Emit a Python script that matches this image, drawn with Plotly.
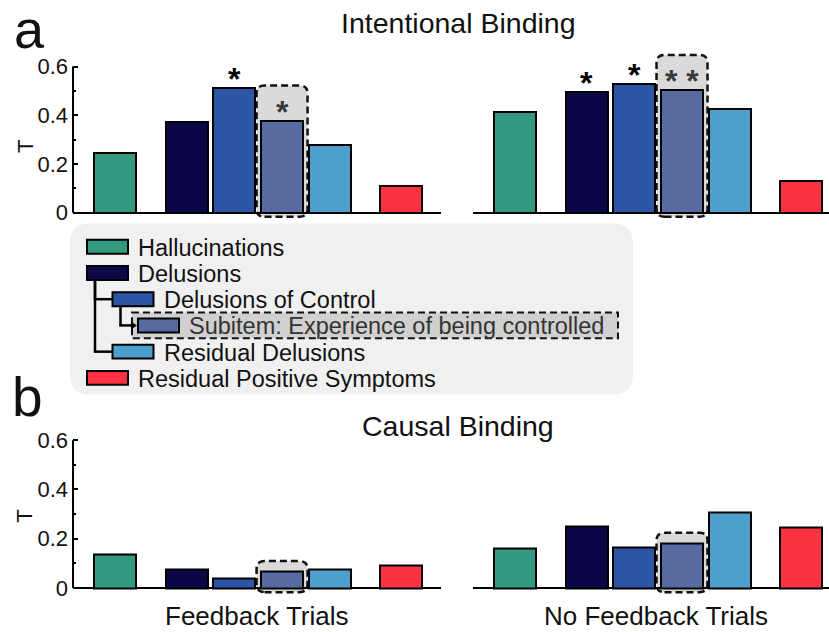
import plotly.graph_objects as go

# ---------------- data ----------------
categories = ["Hallucinations", "Delusions", "Delusions of Control",
              "Subitem: Experience of being controlled", "Residual Delusions",
              "Residual Positive Symptoms"]
x_pos = [1, 2.5, 3.5, 4.5, 5.5, 7]
colors = ["#33997f", "#0c0848", "#2d55a5", "#586ba0", "#4da0cd", "#fa3241"]
levels = [0, 0, 1, 2, 1, 0]
highlight_index = 3

intentional_feedback = [0.245, 0.373, 0.513, 0.377, 0.279, 0.111]
intentional_nofeedback = [0.415, 0.495, 0.529, 0.503, 0.424, 0.129]
causal_feedback = [0.137, 0.074, 0.040, 0.067, 0.074, 0.092]
causal_nofeedback = [0.159, 0.249, 0.164, 0.182, 0.305, 0.246]

intentional_feedback_sig = ["", "", "*", "*", "", ""]
intentional_nofeedback_sig = ["", "*", "*", "* *", "", ""]
causal_feedback_sig = ["", "", "", "", "", ""]
causal_nofeedback_sig = ["", "", "", "", "", ""]

y_tickvals = [0, 0.2, 0.4, 0.6]
y_ticktext = ["0", "0.2", "0.4", "0.6"]

# ---------------- layout helpers ----------------
W, H = 829, 632
FONT = "Liberation Sans, Arial, Helvetica, sans-serif"


def fx(px):
    return px / W


def fy(py):
    return 1 - py / H


YR = [-0.035, 0.66]
XR_LEFT = [0.12, 7.83]
XR_RIGHT = [0.12, 7.58]
X_DOM_LEFT = (73, 441)
X_DOM_RIGHT = (473, 829)
PX_PER_X = (X_DOM_LEFT[1] - X_DOM_LEFT[0]) / (XR_LEFT[1] - XR_LEFT[0])


def ydomain(zero_px, unit_px):
    return [fy(zero_px - YR[0] * unit_px), fy(zero_px - YR[1] * unit_px)]


PANEL_A = (214.0, 245.0)
PANEL_B = (591.7, 247.8)


def rr_path(x0, x1, y0, y1, rx, ry):
    return (f"M {x0 + rx},{y0} L {x1 - rx},{y0} Q {x1},{y0} {x1},{y0 + ry} "
            f"L {x1},{y1 - ry} Q {x1},{y1} {x1 - rx},{y1} "
            f"L {x0 + rx},{y1} Q {x0},{y1} {x0},{y1 - ry} "
            f"L {x0},{y0 + ry} Q {x0},{y0} {x0 + rx},{y0} Z")


fig = go.Figure()
shapes = []
annotations = []

panels = [
    ("x", "y", intentional_feedback, intentional_feedback_sig, PANEL_A, True),
    ("x2", "y2", intentional_nofeedback, intentional_nofeedback_sig, PANEL_A, False),
    ("x3", "y3", causal_feedback, causal_feedback_sig, PANEL_B, True),
    ("x4", "y4", causal_nofeedback, causal_nofeedback_sig, PANEL_B, False),
]

BAR_W = 0.88
for xa, ya, vals, sig, (zero_px, unit_px), has_axis in panels:
    fig.add_trace(go.Bar(
        x=x_pos, y=vals, width=BAR_W, xaxis=xa, yaxis=ya,
        marker=dict(color=colors, line=dict(color="black", width=2)),
        showlegend=False, hoverinfo="y"))
    # highlight box around subitem bar
    hx = x_pos[highlight_index]
    hv = vals[highlight_index]
    half = BAR_W / 2 + 4.5 / PX_PER_X
    pad = 0.145 if sig[highlight_index] else 0.042
    shapes.append(dict(
        type="path", xref=xa, yref=ya, layer="below",
        path=rr_path(hx - half, hx + half, -0.017, hv + pad,
                     8 / PX_PER_X, 8 / unit_px),
        fillcolor="#dadada",
        line=dict(color="#111111", width=2.5, dash="7px,4px")))
    for i, s in enumerate(sig):
        if s:
            annotations.append(dict(
                x=x_pos[i], y=vals[i], xref=xa, yref=ya, text=f"<b>{s}</b>",
                showarrow=False, xanchor="center", yanchor="middle", yshift=9,
                font=dict(family=FONT, size=32,
                          color="#3a3a3a" if i == highlight_index else "black")))
    if has_axis:
        shapes.append(dict(type="line", xref=f"{xa} domain", yref=ya,
                           x0=0, x1=0, y0=0, y1=y_tickvals[-1],
                           line=dict(color="black", width=2)))

axis_common_x = dict(showticklabels=False, ticks="", showline=False,
                     zeroline=False, showgrid=False, fixedrange=True)

layout_axes = {}
for idx, (xa, ya, vals, sig, (zero_px, unit_px), has_axis) in enumerate(panels):
    xname = "xaxis" if xa == "x" else "xaxis" + xa[1:]
    yname = "yaxis" if ya == "y" else "yaxis" + ya[1:]
    dom = X_DOM_LEFT if has_axis else X_DOM_RIGHT
    layout_axes[xname] = dict(axis_common_x, domain=[fx(dom[0]), fx(dom[1])],
                              range=XR_LEFT if has_axis else XR_RIGHT,
                              anchor=ya)
    ydict = dict(domain=ydomain(zero_px, unit_px), range=YR, anchor=xa,
                 showgrid=False, zeroline=True, zerolinecolor="black",
                 zerolinewidth=2, showline=False, fixedrange=True)
    if has_axis:
        ydict.update(tickvals=y_tickvals, ticktext=y_ticktext, ticks="inside",
                     ticklen=5, tickwidth=2, tickcolor="black",
                     ticklabelstandoff=4,
                     tickfont=dict(family=FONT, size=22, color="#111111"),
                     minor=dict(tickvals=[0.1, 0.3, 0.5], ticks="inside",
                                ticklen=3, tickwidth=2, tickcolor="black"))
    else:
        ydict.update(showticklabels=False, ticks="")
    layout_axes[yname] = ydict

# ---------------- text labels ----------------
def text(xp, yp, s, size, **kw):
    d = dict(x=fx(xp), y=fy(yp), xref="paper", yref="paper", text=s,
             showarrow=False, xanchor="center", yanchor="middle",
             font=dict(family=FONT, size=size,
                       color=kw.pop("color", "#111111")))
    d.update(kw)
    annotations.append(d)


text(29, 29, "a", 54)
text(27, 400, "b", 55)
text(458, 23, "Intentional Binding", 28.5)
text(458, 429, "Causal Binding", 28.5)
text(257, 620, "Feedback Trials", 26)
text(656, 620, "No Feedback Trials", 26)
text(25, 148, "T", 22, textangle=-90)
text(25, 520, "T", 22, textangle=-90)

# ---------------- custom legend ----------------
BOX = (70, 225, 633, 397)
shapes.append(dict(type="path", xref="paper", yref="paper", layer="above",
                   path=rr_path(fx(BOX[0]), fx(BOX[2]), fy(BOX[1]), fy(BOX[3]),
                                20 / W, -20 / H),
                   fillcolor="#f0f0f0", line=dict(width=0)))

ROW0, ROW_DY = 248.3, 26.4
SW_X0, SW_IND, SW_W, SW_H = 87, 25.5, 41, 14
rows = [ROW0 + i * ROW_DY for i in range(len(categories))]
sw_x = [SW_X0 + lv * SW_IND for lv in levels]

# highlight band behind subitem row
hy = rows[highlight_index]
shapes.append(dict(type="rect", xref="paper", yref="paper", layer="above",
                   x0=fx(sw_x[highlight_index] - 6), x1=fx(618),
                   y0=fy(hy - 13), y1=fy(hy + 13),
                   fillcolor="#d0d0d0",
                   line=dict(color="#111111", width=2, dash="7px,4px")))

# tree connectors
for i, lv in enumerate(levels):
    if lv == 0:
        continue
    p = max(j for j in range(i) if levels[j] == lv - 1)
    vx = sw_x[p] + 8
    shapes.append(dict(type="line", xref="paper", yref="paper", layer="above",
                       x0=fx(vx), x1=fx(vx), y0=fy(rows[p] + SW_H / 2),
                       y1=fy(rows[i]), line=dict(color="black", width=2.5)))
    end = sw_x[i] - (4 if lv >= 2 else 0)
    shapes.append(dict(type="line", xref="paper", yref="paper", layer="above",
                       x0=fx(vx - 1.2), x1=fx(end), y0=fy(rows[i]), y1=fy(rows[i]),
                       line=dict(color="black", width=2.5)))
    if lv >= 2:
        tip = sw_x[i] - 1
        shapes.append(dict(type="path", xref="paper", yref="paper", layer="above",
                           path=f"M {fx(tip)},{fy(rows[i])} L {fx(tip - 6)},{fy(rows[i] - 4)} "
                                f"L {fx(tip - 6)},{fy(rows[i] + 4)} Z",
                           fillcolor="black", line=dict(width=0)))

for i, name in enumerate(categories):
    shapes.append(dict(type="rect", xref="paper", yref="paper", layer="above",
                       x0=fx(sw_x[i]), x1=fx(sw_x[i] + SW_W),
                       y0=fy(rows[i] - SW_H / 2), y1=fy(rows[i] + SW_H / 2),
                       fillcolor=colors[i], line=dict(color="black", width=2)))
    annotations.append(dict(x=fx(sw_x[i] + SW_W + 8), y=fy(rows[i] + 1),
                            xref="paper", yref="paper", text=name,
                            showarrow=False, xanchor="left", yanchor="middle",
                            font=dict(family=FONT, size=23.5,
                                      color="#333333" if i == highlight_index else "#111111")))

fig.update_layout(
    width=W, height=H, margin=dict(l=0, r=0, t=0, b=0),
    paper_bgcolor="white", plot_bgcolor="rgba(0,0,0,0)",
    showlegend=False, bargap=0, shapes=shapes, annotations=annotations,
    **layout_axes)

fig.write_html("out.html", config={"displayModeBar": False},
               post_script="document.body.style.margin='0';document.body.style.padding='0';")
